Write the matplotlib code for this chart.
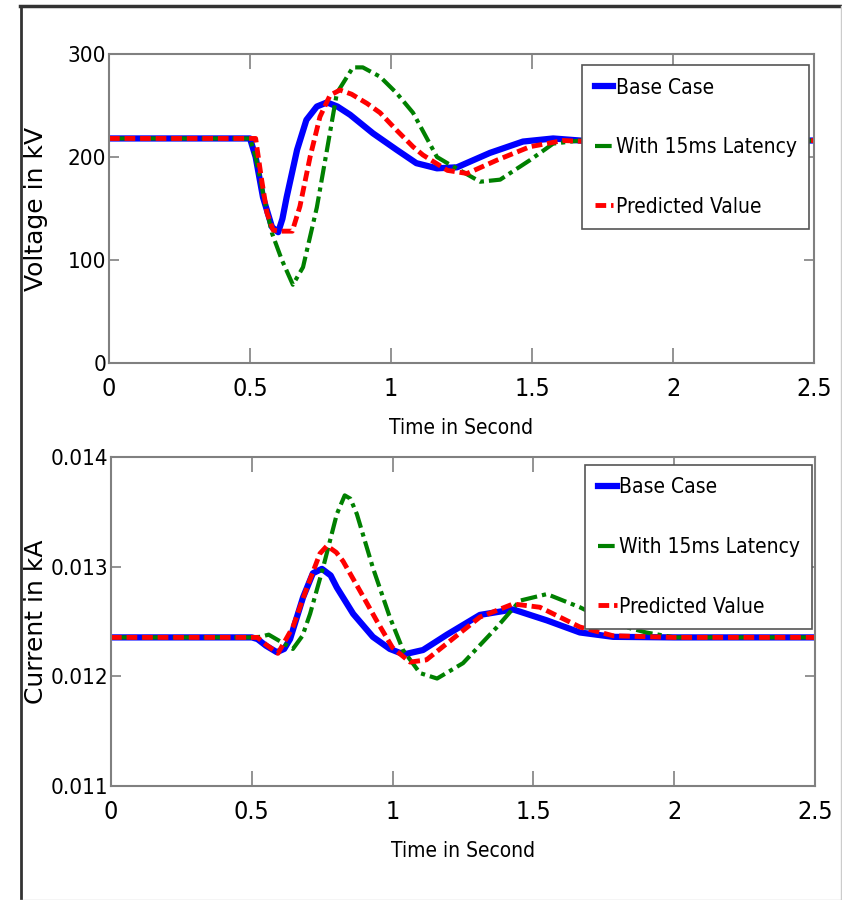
import matplotlib.pyplot as plt
from matplotlib import font_manager
from matplotlib.font_manager import FontProperties
from matplotlib.lines import Line2D

# Bus voltage (kV) after the disturbance
t_v_base = [0, 0.50, 0.52, 0.546, 0.578, 0.60, 0.615, 0.63, 0.667, 0.70, 0.737, 0.773, 0.81, 0.855,
            0.936, 1.02, 1.09, 1.163, 1.234, 1.351, 1.468, 1.575, 1.67, 1.8, 2.0, 2.2, 2.5]
v_base = [218, 218, 200, 161, 132, 127, 140, 161, 207, 236, 249, 253, 249, 241,
          223, 207, 194, 189, 190, 204, 215, 218, 216, 214, 215, 216, 216]

t_v_lat = [0, 0.50, 0.52, 0.55, 0.578, 0.613, 0.652, 0.688, 0.737, 0.773, 0.808, 0.865, 0.90,
           0.961, 1.02, 1.078, 1.163, 1.2, 1.316, 1.387, 1.493, 1.575, 1.67, 1.8, 2.0, 2.5]
v_lat = [218, 218, 200, 160, 126, 100, 76, 93, 151, 207, 262, 287, 287,
         278, 262, 243, 200, 194, 176, 178, 197, 213, 216, 214, 214, 216]

t_v_pred = [0, 0.52, 0.54, 0.56, 0.582, 0.61, 0.65, 0.677, 0.713, 0.748, 0.784, 0.819, 0.86,
            0.915, 0.961, 1.02, 1.078, 1.113, 1.2, 1.27, 1.376, 1.493, 1.61, 1.7, 2.0, 2.5]
v_pred = [218, 218, 180, 146, 129, 128, 128, 152, 200, 239, 260, 265, 261,
          252, 243, 226, 210, 202, 187, 184, 197, 210, 216, 215, 214, 216]

# Line current (kA)
t_i_base = [0, 0.50, 0.52, 0.55, 0.589, 0.615, 0.636, 0.682, 0.717, 0.749, 0.78, 0.802, 0.86,
            0.93, 0.99, 1.04, 1.108, 1.193, 1.31, 1.428, 1.548, 1.665, 1.783, 2.0, 2.5]
i_base = [0.012355, 0.012355, 0.01234, 0.01228, 0.01222, 0.01225, 0.01234, 0.01272, 0.01294,
          0.01298, 0.01292, 0.01281, 0.01257, 0.01236, 0.01225, 0.01220, 0.01224, 0.01238,
          0.01256, 0.01261, 0.01251, 0.0124, 0.01236, 0.012355, 0.012355]

t_i_lat = [0, 0.50, 0.53, 0.56, 0.60, 0.646, 0.68, 0.707, 0.753, 0.802, 0.83, 0.85, 0.873,
           0.93, 0.99, 1.037, 1.097, 1.158, 1.25, 1.371, 1.452, 1.548, 1.665, 1.783, 1.9, 2.0, 2.5]
i_lat = [0.012355, 0.012355, 0.01236, 0.01238, 0.01232, 0.01225, 0.01237, 0.01257, 0.01299,
         0.01348, 0.01365, 0.01362, 0.01348, 0.01299, 0.01254, 0.01224, 0.01203, 0.01198,
         0.01212, 0.01245, 0.01269, 0.01275, 0.01263, 0.01248, 0.0124, 0.012355, 0.012355]

t_i_pred = [0, 0.52, 0.55, 0.593, 0.646, 0.696, 0.742, 0.767, 0.80, 0.824, 0.884, 0.945, 1.0,
            1.062, 1.12, 1.193, 1.31, 1.428, 1.523, 1.665, 1.783, 2.0, 2.5]
i_pred = [0.012355, 0.012355, 0.01229, 0.01221, 0.01245, 0.01281, 0.01312, 0.01319, 0.01313,
          0.01305, 0.01278, 0.01250, 0.01226, 0.01213, 0.01215, 0.0123, 0.01254, 0.01266,
          0.01263, 0.01245, 0.01237, 0.012355, 0.012355]

labels = ['Base Case', 'With 15ms Latency', 'Predicted Value']
xticks = [0, 0.5, 1, 1.5, 2, 2.5]
xticklabels = ['0', '0.5', '1', '1.5', '2', '2.5']

# pick a narrow sans face if one is installed, else plain Liberation Sans
narrow = None
for f in font_manager.fontManager.ttflist:
    if f.style != 'normal' or f.weight not in (400, 'normal', 'regular', 'book'):
        continue
    if 'Narrow' in f.name or 'Condensed' in f.name or 'condensed' in str(f.stretch):
        if f.name.startswith(('Liberation', 'Roboto', 'DejaVu', 'Open', 'Noto Sans')):
            narrow = f
            break
if narrow is not None:
    txt = FontProperties(fname=narrow.fname)
    sz = dict(xtick=18, ytick=16, xlab=15, leg=15)
else:
    txt = FontProperties(family='Liberation Sans')
    sz = dict(xtick=16, ytick=14, xlab=14, leg=13)

leg_prop = txt.copy()
leg_prop.set_size(sz['leg'])

fig = plt.figure(figsize=(8.42, 9), dpi=100)

# outer frame
fig.add_artist(Line2D([20 / 842, 1], [1 - 6 / 900, 1 - 6 / 900], color='#333333', lw=2.5))
fig.add_artist(Line2D([20.5 / 842, 20.5 / 842], [0, 1 - 6 / 900], color='#333333', lw=2))
fig.add_artist(Line2D([841 / 842, 841 / 842], [0, 1 - 6 / 900], color='#cccccc', lw=1))
fig.add_artist(Line2D([20 / 842, 1], [0.5 / 900, 0.5 / 900], color='#cccccc', lw=1))

ax1 = fig.add_axes([109 / 842, 1 - 363 / 900, 705 / 842, 309 / 900])
ax2 = fig.add_axes([111 / 842, 1 - 786 / 900, 704 / 842, 329 / 900])

blue = dict(color='#0000ff', lw=4.5, ls='-')
green = dict(color='#008000', lw=3, ls=(0, (4, 1.2, 1, 1.2)))
red = dict(color='#ff0000', lw=3.5, ls=(0, (2.2, 1.0)))

ax1.plot(t_v_base, v_base, label=labels[0], **blue)
ax1.plot(t_v_lat, v_lat, label=labels[1], **green)
ax1.plot(t_v_pred, v_pred, label=labels[2], **red)

ax2.plot(t_i_base, i_base, label=labels[0], **blue)
ax2.plot(t_i_lat, i_lat, label=labels[1], **green)
ax2.plot(t_i_pred, i_pred, label=labels[2], **red)

ax1.set_ylim(0, 300)
ax1.set_yticks([0, 100, 200, 300])
ax1.set_yticklabels(['0', '100', '200', '300'])
ax2.set_ylim(0.011, 0.014)
ax2.set_yticks([0.011, 0.012, 0.013, 0.014])
ax2.set_yticklabels(['0.011', '0.012', '0.013', '0.014'])

for ax, ylab, anchor, lx in [(ax1, 'Voltage in kV', (0.993, 0.964), -0.103),
                             (ax2, 'Current in kA', (0.996, 0.976), -0.106)]:
    ax.set_xlim(0, 2.5)
    ax.set_xticks(xticks)
    ax.set_xticklabels(xticklabels)
    for s in ax.spines.values():
        s.set_color('#808080')
        s.set_linewidth(1.5)
    ax.tick_params(axis='both', direction='in', top=True, right=True, color='#808080', width=1.2)
    ax.tick_params(axis='x', length=11, pad=10)
    ax.tick_params(axis='y', length=7, pad=2)
    for lab in ax.get_xticklabels():
        lab.set_fontproperties(txt)
        lab.set_fontsize(sz['xtick'])
    for lab in ax.get_yticklabels():
        lab.set_fontproperties(txt)
        lab.set_fontsize(sz['ytick'])
    ax.set_xlabel('Time in Second', fontproperties=txt, fontsize=sz['xlab'], labelpad=12)
    ax.set_ylabel(ylab, fontsize=18, family=['DejaVu Sans'])
    ax.yaxis.set_label_coords(lx, 0.5)
    ax.yaxis.label.set_verticalalignment('center')
    leg = ax.legend(loc='upper right', bbox_to_anchor=anchor, borderaxespad=0,
                    prop=leg_prop, handlelength=0.9, handletextpad=0.1, labelspacing=1.9,
                    borderpad=0.6, fancybox=False, framealpha=1, edgecolor='#555555')
    leg.get_frame().set_linewidth(1.2)

fig.savefig('out.png', dpi=100)
